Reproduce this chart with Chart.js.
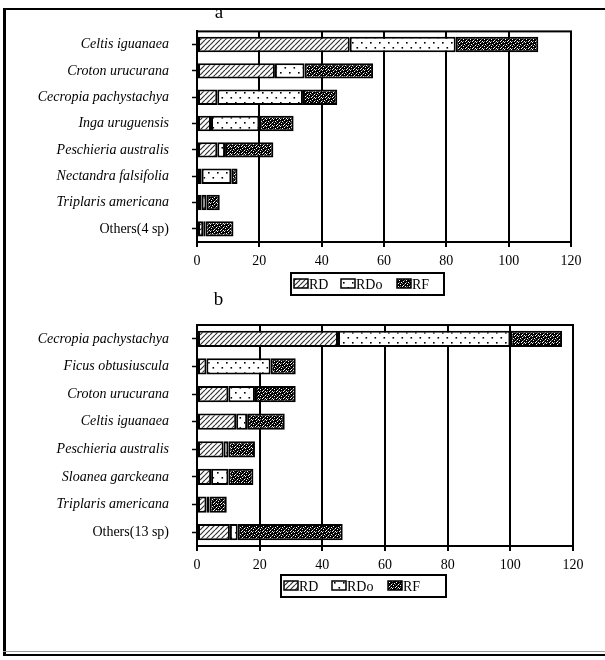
<!DOCTYPE html>
<html>
<head>
<meta charset="utf-8">
<script src="https://cdn.jsdelivr.net/npm/chart.js@4.4.0/dist/chart.umd.min.js"></script>
<style>
  html, body { margin: 0; padding: 0; background: #fff; }
  #wrap { position: relative; width: 605px; height: 660px; overflow: hidden; background: #fff; }
  #cA { position: absolute; left: 0; top: 0; }
  #cB { position: absolute; left: 0; top: 280px; }
  .fr { position: absolute; background: #000; }
</style>
</head>
<body>
<div id="wrap">
  <canvas id="cA" width="605" height="300"></canvas>
  <canvas id="cB" width="605" height="380"></canvas>
  <div class="fr" style="left:3px;top:8px;width:3px;height:648px"></div>
  <div class="fr" style="left:3px;top:8px;width:602px;height:2px"></div>
  <div class="fr" style="left:3px;top:651px;width:602px;height:1px;background:#999"></div>
  <div class="fr" style="left:3px;top:654px;width:602px;height:2px"></div>
</div>
<script>
// Index components
const seriesNames = ['RD', 'RDo', 'RF'];
const xTicks = [0, 20, 40, 60, 80, 100, 120];

// Panel a
const speciesA = ['Celtis iguanaea', 'Croton urucurana', 'Cecropia pachystachya', 'Inga uruguensis',
                  'Peschieria australis', 'Nectandra falsifolia', 'Triplaris americana', 'Others(4 sp)'];
const rdA  = [49, 25, 6.5, 4.5, 6.5, 1.5, 1.5, 2];
const rdoA = [34, 9.5, 27.5, 15.5, 2.5, 9.5, 1.5, 0.7];
const rfA  = [26.5, 22, 11, 11, 15.5, 2, 4.3, 9];

// Panel b
const speciesB = ['Cecropia pachystachya', 'Ficus obtusiuscula', 'Croton urucurana', 'Celtis iguanaea',
                  'Peschieria australis', 'Sloanea garckeana', 'Triplaris americana', 'Others(13 sp)'];
const rdB  = [45, 3, 10, 12.5, 8.5, 4.5, 3, 10.5];
const rdoB = [55, 20.5, 8.5, 3.5, 1.5, 5.5, 1, 2.5];
const rfB  = [16.5, 8, 13, 12, 8.5, 8, 5.5, 33.5];

const SERIF = '"Liberation Serif", "Times New Roman", serif';

// ---- fill textures ----
function makeTile(w, h, paint) {
  const c = document.createElement('canvas');
  c.width = w; c.height = h;
  paint(c.getContext('2d'), w, h);
  return c;
}
const hatchTile = makeTile(5, 5, (g, w, h) => {
  g.fillStyle = '#fff'; g.fillRect(0, 0, w, h);
  g.strokeStyle = '#333'; g.lineWidth = 1.2;
  g.beginPath();
  g.moveTo(0, h); g.lineTo(w, 0);
  g.moveTo(-w, h); g.lineTo(0, 0);
  g.moveTo(w, h); g.lineTo(2 * w, 0);
  g.stroke();
});
const dotTile = makeTile(9, 10, (g, w, h) => {
  g.fillStyle = '#fff'; g.fillRect(0, 0, w, h);
  g.fillStyle = '#000';
  g.fillRect(1, 2, 1.6, 1.6);
  g.fillRect(5.5, 7, 1.6, 1.6);
});
const speckTile = makeTile(7, 7, (g, w, h) => {
  g.fillStyle = '#000'; g.fillRect(0, 0, w, h);
  g.fillStyle = '#fff';
  [[0,0],[4,1],[2,2],[6,3],[1,4],[4,5],[6,6],[3,6]].forEach(([x, y]) => g.fillRect(x, y, 1, 1));
  g.fillStyle = '#777';
  [[5,0],[0,2],[3,3],[5,4],[1,6]].forEach(([x, y]) => g.fillRect(x, y, 1, 1));
});

// ---- plugins ----
const plotFrame = {
  id: 'plotFrame',
  beforeDatasetsDraw(chart) {
    const { ctx, chartArea: a } = chart;
    ctx.save();
    ctx.strokeStyle = '#000';
    ctx.lineWidth = 2;
    ctx.strokeRect(a.left, a.top, a.right - a.left, a.bottom - a.top);
    ctx.restore();
  }
};

const boxLegend = {
  id: 'boxLegend',
  afterDraw(chart, args, opts) {
    const ctx = chart.ctx;
    ctx.save();
    ctx.fillStyle = '#fff';
    ctx.fillRect(opts.left, opts.top, opts.width, opts.height);
    ctx.strokeStyle = '#000';
    ctx.lineWidth = 2;
    ctx.strokeRect(opts.left, opts.top, opts.width, opts.height);
    const cy = opts.top + opts.height / 2;
    chart.data.datasets.forEach((ds, i) => {
      const x = opts.left + opts.offsets[i];
      ctx.fillStyle = ds.backgroundColor;
      ctx.fillRect(x, cy - 5, 14, 9);
      ctx.lineWidth = 1.5;
      ctx.strokeStyle = '#000';
      ctx.strokeRect(x, cy - 5, 14, 9);
      ctx.fillStyle = '#000';
      ctx.font = '14px ' + SERIF;
      ctx.textAlign = 'left';
      ctx.textBaseline = 'middle';
      ctx.fillText(ds.label, x + 15, cy + 1);
    });
    ctx.restore();
  }
};

const panelLetter = {
  id: 'panelLetter',
  afterDraw(chart, args, opts) {
    const ctx = chart.ctx;
    ctx.save();
    ctx.fillStyle = '#000';
    ctx.font = '19px ' + SERIF;
    ctx.textAlign = 'center';
    ctx.textBaseline = 'alphabetic';
    ctx.fillText(opts.text, opts.x, opts.y);
    ctx.restore();
  }
};

function buildPanel(canvasId, labels, rd, rdo, rf, layoutPad, legendBox, letter) {
  const ctx = document.getElementById(canvasId).getContext('2d');
  const fills = [
    ctx.createPattern(hatchTile, 'repeat'),
    ctx.createPattern(dotTile, 'repeat'),
    ctx.createPattern(speckTile, 'repeat')
  ];
  const values = [rd, rdo, rf];
  return new Chart(ctx, {
    type: 'bar',
    data: {
      labels: labels,
      datasets: seriesNames.map((name, i) => ({
        label: name,
        data: values[i],
        backgroundColor: fills[i]
      }))
    },
    options: {
      indexAxis: 'y',
      responsive: false,
      animation: false,
      devicePixelRatio: 1,
      layout: { padding: layoutPad },
      datasets: {
        bar: {
          borderColor: '#000',
          borderWidth: 2,
          borderSkipped: false,
          barPercentage: 0.93,
          categoryPercentage: 0.63
        }
      },
      plugins: {
        legend: { display: false },
        tooltip: { enabled: false },
        boxLegend: legendBox,
        panelLetter: letter
      },
      scales: {
        x: {
          stacked: true,
          min: xTicks[0],
          max: xTicks[xTicks.length - 1],
          afterBuildTicks: (s) => { s.ticks = xTicks.map(v => ({ value: v })); },
          ticks: { color: '#000', padding: 6, font: { family: SERIF, size: 14 } },
          grid: { color: '#000', lineWidth: 2, tickLength: 5, tickColor: '#000', tickWidth: 2 },
          border: { display: true, color: '#000', width: 2 },
          afterFit: (s) => { s.height = 25; }
        },
        y: {
          stacked: true,
          ticks: {
            color: '#000',
            padding: 23,
            font: (c) => {
              const lab = c.tick && c.tick.label ? String(c.tick.label) : '';
              return { family: SERIF, size: 14, style: lab.startsWith('Others') ? 'normal' : 'italic' };
            }
          },
          grid: { drawOnChartArea: false, offset: false, tickLength: 5, tickColor: '#000', tickWidth: 1.5 },
          border: { display: true, color: '#000', width: 2 },
          afterFit: (s) => { s.width = 197; }
        }
      }
    },
    plugins: [plotFrame, boxLegend, panelLetter]
  });
}

buildPanel('cA', speciesA, rdA, rdoA, rfA,
  { left: 0, right: 34, top: 24, bottom: 33 },
  { left: 291, top: 273, width: 153, height: 22, offsets: [3, 50, 106] },
  { text: 'a', x: 219, y: 17.5 });

buildPanel('cB', speciesB, rdB, rdoB, rfB,
  { left: 0, right: 32, top: 45, bottom: 89 },
  { left: 281, top: 295, width: 165, height: 22, offsets: [3, 51, 107] },
  { text: 'b', x: 218.5, y: 25 });
</script>
</body>
</html>
